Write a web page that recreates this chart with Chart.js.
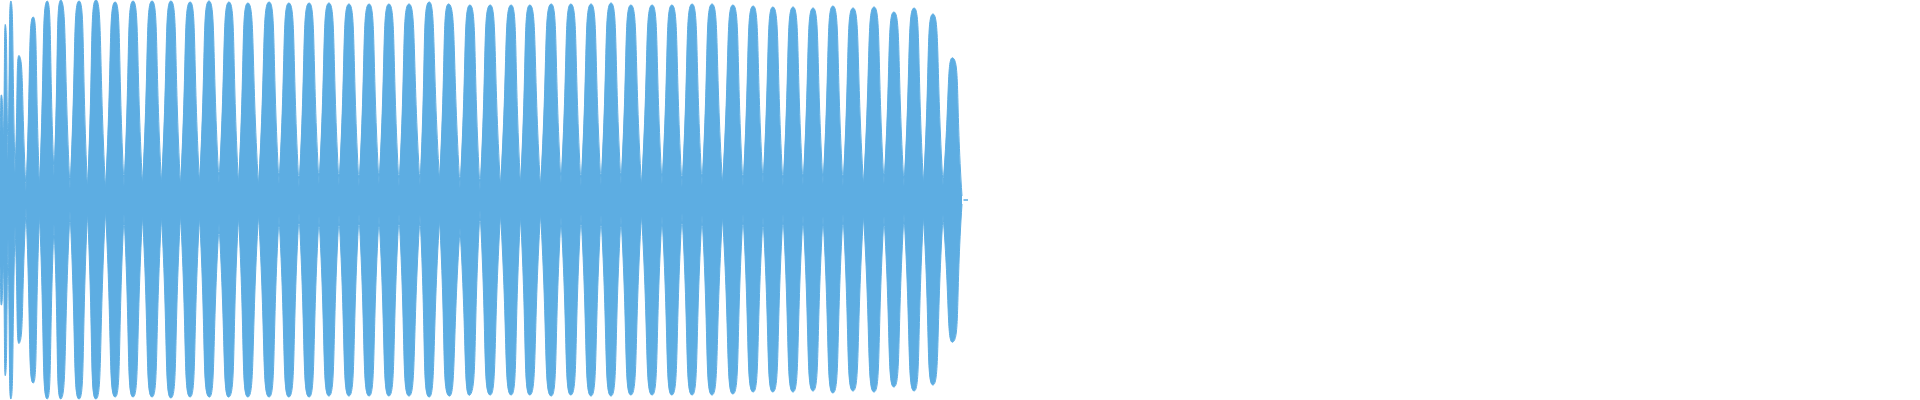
<!DOCTYPE html>
<html>
<head>
<meta charset="utf-8">
<script src="https://cdn.jsdelivr.net/npm/chart.js@4.4.1/dist/chart.umd.min.js"></script>
<style>
  html, body { margin: 0; padding: 0; background: #ffffff; }
  #wrap { width: 1920px; height: 400px; position: relative; }
</style>
</head>
<body>
<div id="wrap"><canvas id="c"></canvas></div>
<script>
// Time (ms) of each beat lobe maximum
const peakTimes = [1.5, 5.5, 11, 19.5, 33, 47,
  61, 79, 96, 115, 133, 152, 171, 190, 209, 229, 248,
  269, 289, 309, 329, 349, 369, 389, 409, 429, 449, 470, 490,
  511, 530, 551, 571, 591, 611, 631, 652, 672, 692, 712, 733,
  753, 773, 793, 813, 833, 853, 874, 894, 914, 933, 953];
// Upper envelope peak amplitude of each lobe
const upperPeakAmps = [0.525, 0.875, 0.995, 0.72, 0.915, 0.995,
  1.0, 0.995, 1.0, 0.99, 0.995, 0.995, 0.995, 0.99, 0.995, 0.99, 0.985,
  0.99, 0.985, 0.985, 0.985, 0.98, 0.98, 0.98, 0.98, 0.99, 0.98, 0.975, 0.975,
  0.975, 0.975, 0.98, 0.98, 0.98, 0.985, 0.975, 0.975, 0.975, 0.98, 0.98, 0.975,
  0.97, 0.965, 0.965, 0.96, 0.97, 0.96, 0.965, 0.94, 0.96, 0.93, 0.71];
// Lower envelope peak amplitude of each lobe
const lowerPeakAmps = [-0.525, -0.875, -0.995, -0.715, -0.915, -0.995,
  -0.995, -0.995, -0.995, -0.985, -0.985, -0.985, -0.99, -0.985, -0.985, -0.985, -0.985,
  -0.985, -0.985, -0.985, -0.98, -0.98, -0.98, -0.98, -0.98, -0.985, -0.98, -0.975, -0.975,
  -0.975, -0.975, -0.98, -0.975, -0.98, -0.98, -0.975, -0.975, -0.975, -0.975, -0.975, -0.97,
  -0.96, -0.96, -0.96, -0.955, -0.965, -0.955, -0.96, -0.935, -0.955, -0.925, -0.71];
// Time (ms) of the beat nodes between lobes (first = start, last = end)
const nodeTimes = [0, 3.5, 8, 15, 26, 39.5,
  54, 70, 87.5, 105.5, 124, 142.5, 161.5, 180.5, 199.5, 219, 238.5,
  258.5, 279, 299, 319, 339, 359, 379, 399, 420, 439.5, 460, 480,
  500.5, 520.5, 540.5, 561, 581, 601, 621, 641.5, 662, 682, 702, 722.5,
  743, 763, 783, 803, 823, 843, 863.5, 884, 904, 923.5, 943, 962];
// Upper envelope amplitude at each node
const upperNodeAmps = [0.33, 0.3, 0.2, 0.135, 0.045, 0.07,
  0.12, 0.055, 0.06, 0.055, 0.07, 0.075, 0.08, 0.07, 0.085, 0.085, 0.08,
  0.07, 0.08, 0.065, 0.08, 0.075, 0.07, 0.08, 0.07, 0.075, 0.1, 0.06, 0.05,
  0.07, 0.08, 0.065, 0.085, 0.07, 0.075, 0.08, 0.07, 0.08, 0.065, 0.075, 0.08,
  0.07, 0.085, 0.07, 0.075, 0.08, 0.07, 0.075, 0.08, 0.07, 0.08, 0.075, 0.02];
// Lower envelope amplitude at each node
const lowerNodeAmps = [-0.33, -0.3, -0.195, -0.13, -0.04, -0.07,
  -0.12, -0.055, -0.06, -0.05, -0.07, -0.075, -0.08, -0.07, -0.08, -0.12, -0.08,
  -0.07, -0.08, -0.065, -0.08, -0.075, -0.07, -0.08, -0.07, -0.075, -0.095, -0.14, -0.05,
  -0.07, -0.08, -0.065, -0.085, -0.07, -0.075, -0.08, -0.07, -0.08, -0.065, -0.075, -0.08,
  -0.07, -0.085, -0.07, -0.075, -0.08, -0.07, -0.075, -0.08, -0.07, -0.08, -0.075, -0.02];
// Silent tail after the sound ends
const tailTimes = [963.5, 968];
const tailAmps = [0, 0];
// Visible time window (ms)
const timeRange = [0, 1920];
const ampRange = [-1, 1];

// Each node appears twice so the library's spline has a sharp turn there
function envelope(peaks, nodes) {
  const pts = [];
  for (let i = 0; i < peakTimes.length; i++) {
    pts.push({ x: nodeTimes[i], y: nodes[i] });
    pts.push({ x: peakTimes[i], y: peaks[i] });
    pts.push({ x: nodeTimes[i + 1], y: nodes[i + 1] });
  }
  return pts;
}

const blue = 'rgb(93,173,226)';
const common = {
  borderColor: blue,
  backgroundColor: blue,
  borderWidth: 1,
  pointRadius: 0,
  tension: 0.68,
  fill: 'origin'
};

new Chart(document.getElementById('c'), {
  type: 'line',
  data: {
    datasets: [
      Object.assign({ label: 'upper', data: envelope(upperPeakAmps, upperNodeAmps) }, common),
      Object.assign({ label: 'lower', data: envelope(lowerPeakAmps, lowerNodeAmps) }, common),
      { label: 'tail', data: tailTimes.map((t, i) => ({ x: t, y: tailAmps[i] })),
        borderColor: blue, borderWidth: 1.5, pointRadius: 0, fill: false }
    ]
  },
  options: {
    responsive: true,
    maintainAspectRatio: false,
    animation: false,
    layout: { padding: 0 },
    plugins: { legend: { display: false }, tooltip: { enabled: false } },
    scales: {
      x: { type: 'linear', min: timeRange[0], max: timeRange[1], display: false },
      y: { min: ampRange[0], max: ampRange[1], display: false }
    }
  }
});
</script>
</body>
</html>
